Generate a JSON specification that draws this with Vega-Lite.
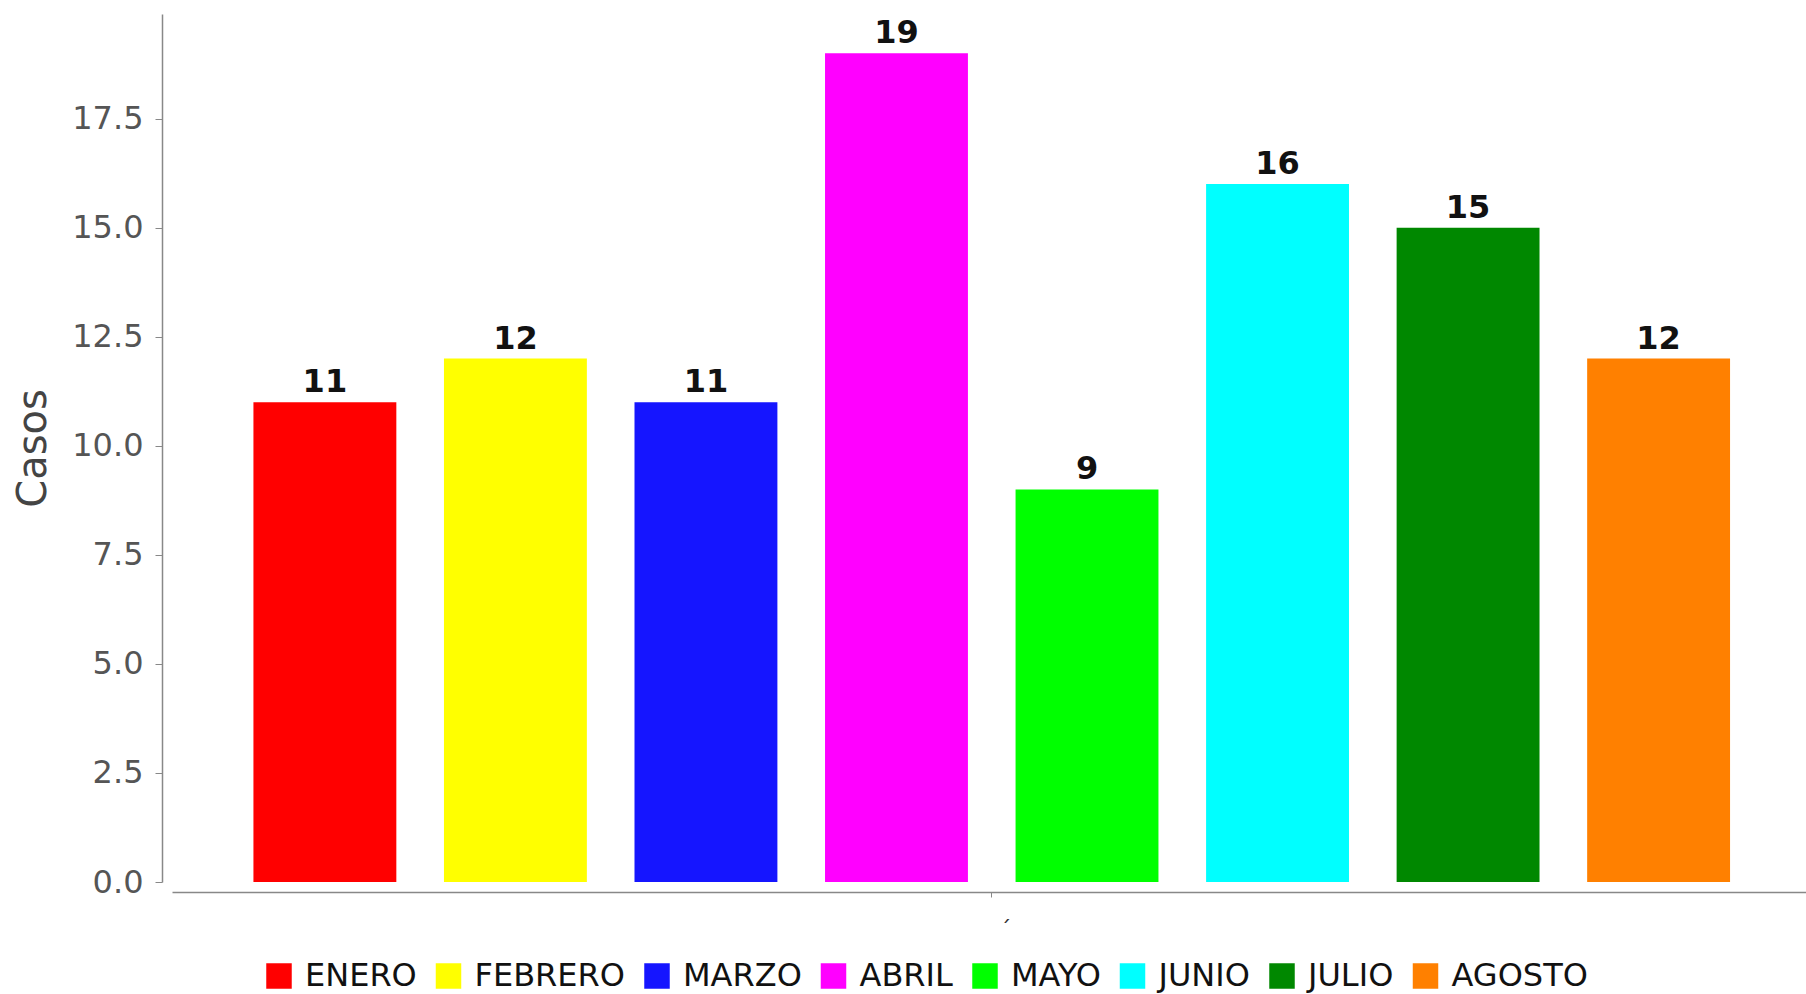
{
  "$schema": "https://vega.github.io/schema/vega-lite/v6.json",
  "width": 1634,
  "height": 868,
  "autosize": {"type": "none"},
  "padding": {"left": 172, "top": 14, "right": 0, "bottom": 112},
  "background": "white",
  "config": {
    "font": "DejaVu Sans",
    "view": {"stroke": null}
  },
  "data": {
    "values": [
      {"cat": "´", "mes": "ENERO", "casos": 11},
      {"cat": "´", "mes": "FEBRERO", "casos": 12},
      {"cat": "´", "mes": "MARZO", "casos": 11},
      {"cat": "´", "mes": "ABRIL", "casos": 19},
      {"cat": "´", "mes": "MAYO", "casos": 9},
      {"cat": "´", "mes": "JUNIO", "casos": 16},
      {"cat": "´", "mes": "JULIO", "casos": 15},
      {"cat": "´", "mes": "AGOSTO", "casos": 12}
    ]
  },
  "encoding": {
    "x": {
      "field": "cat",
      "type": "nominal",
      "scale": {"paddingInner": 0, "paddingOuter": 0.036, "align": 0.525},
      "axis": {
        "title": null,
        "offset": 10,
        "labelAngle": 0,
        "domainColor": "#888888",
        "domainWidth": 1.5,
        "tickColor": "#888888",
        "tickSize": 5,
        "labelFontSize": 22,
        "labelColor": "#333333",
        "labelPadding": 21,
        "labelOffset": 14
      }
    },
    "xOffset": {
      "field": "mes",
      "type": "nominal",
      "sort": ["ENERO", "FEBRERO", "MARZO", "ABRIL", "MAYO", "JUNIO", "JULIO", "AGOSTO"],
      "scale": {"paddingInner": 0.25, "paddingOuter": 0.125}
    },
    "y": {
      "field": "casos",
      "type": "quantitative",
      "scale": {"domain": [0, 19.9], "nice": false, "zero": true},
      "axis": {
        "title": "Casos",
        "titleFontSize": 40,
        "titleFontWeight": "normal",
        "titleColor": "#444444",
        "titlePadding": 18,
        "offset": 10,
        "values": [0, 2.5, 5, 7.5, 10, 12.5, 15, 17.5],
        "format": ".1f",
        "grid": false,
        "domainColor": "#888888",
        "domainWidth": 1.5,
        "tickColor": "#888888",
        "tickSize": 7,
        "labelFontSize": 32,
        "labelColor": "#555555",
        "labelPadding": 12
      }
    }
  },
  "layer": [
    {
      "mark": {"type": "bar"},
      "encoding": {
        "color": {
          "field": "mes",
          "type": "nominal",
          "sort": ["ENERO", "FEBRERO", "MARZO", "ABRIL", "MAYO", "JUNIO", "JULIO", "AGOSTO"],
          "scale": {
            "domain": ["ENERO", "FEBRERO", "MARZO", "ABRIL", "MAYO", "JUNIO", "JULIO", "AGOSTO"],
            "range": ["#ff0000", "#ffff00", "#1515ff", "#ff00ff", "#00ff00", "#00ffff", "#008800", "#ff8000"]
          },
          "legend": {
            "title": null,
            "orient": "none",
            "legendX": 91,
            "legendY": 946,
            "direction": "horizontal",
            "symbolType": "square",
            "symbolSize": 650,
            "symbolStrokeWidth": 0,
            "labelFontSize": 32,
            "labelColor": "#111111",
            "labelOffset": 10,
            "columnPadding": 15.5,
            "padding": 0
          }
        }
      }
    },
    {
      "mark": {
        "type": "text",
        "baseline": "alphabetic",
        "dy": -10,
        "fontSize": 32,
        "fontWeight": "bold",
        "color": "#111111"
      },
      "encoding": {
        "text": {"field": "casos", "type": "quantitative"}
      }
    }
  ]
}
